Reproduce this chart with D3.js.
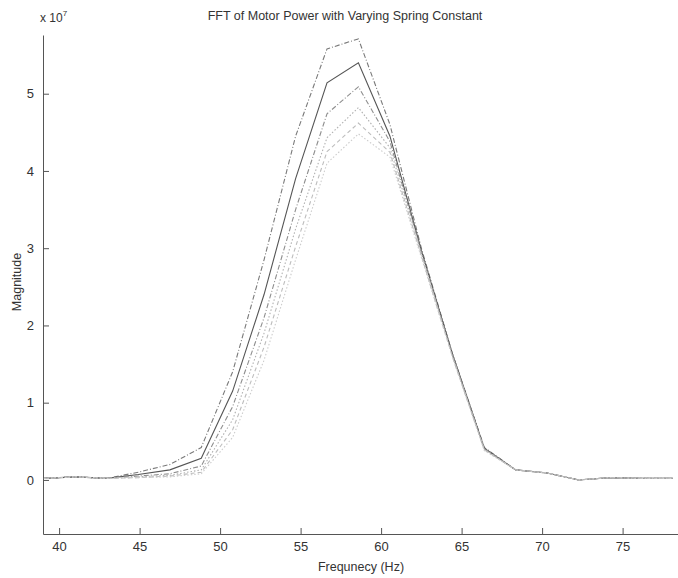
<!DOCTYPE html>
<html>
<head>
<meta charset="utf-8">
<script src="https://cdn.jsdelivr.net/npm/d3@7"></script>
<style>
  body { margin: 0; background: #fff; }
  text { font-family: "Liberation Sans", Arial, sans-serif; fill: #333; }
</style>
</head>
<body>
<div id="chart"></div>
<script>
// frequency bins (Hz)
const freq = [39.06, 41.02, 42.97, 44.92, 46.88, 48.83, 50.78, 52.73, 54.69, 56.64,
  58.59, 60.55, 62.5, 64.45, 66.41, 68.36, 70.31, 72.27, 74.22, 76.17, 78.13];

// magnitude, x 10^7, one array per spring constant
const mag1 = [0.02, 0.04, 0.02, 0.10, 0.20, 0.42, 1.40, 2.85, 4.45, 5.58, 5.71, 4.60, 3.00, 1.62, 0.42, 0.13, 0.09, 0.00, 0.03, 0.02, 0.02];
const mag2 = [0.02, 0.04, 0.02, 0.07, 0.13, 0.28, 1.15, 2.40, 3.90, 5.14, 5.40, 4.45, 2.97, 1.62, 0.41, 0.13, 0.09, 0.00, 0.03, 0.02, 0.02];
const mag3 = [0.02, 0.04, 0.02, 0.05, 0.08, 0.18, 0.95, 2.10, 3.50, 4.74, 5.09, 4.38, 2.95, 1.60, 0.40, 0.13, 0.09, 0.00, 0.03, 0.02, 0.02];
const mag4 = [0.02, 0.04, 0.02, 0.04, 0.06, 0.13, 0.78, 1.90, 3.25, 4.43, 4.82, 4.30, 2.93, 1.60, 0.40, 0.13, 0.09, 0.00, 0.03, 0.02, 0.02];
const mag5 = [0.02, 0.04, 0.02, 0.03, 0.05, 0.10, 0.65, 1.72, 3.02, 4.25, 4.62, 4.24, 2.90, 1.58, 0.39, 0.13, 0.09, 0.00, 0.03, 0.02, 0.02];
const mag6 = [0.02, 0.04, 0.02, 0.03, 0.04, 0.08, 0.55, 1.55, 2.85, 4.10, 4.48, 4.18, 2.88, 1.58, 0.38, 0.13, 0.09, 0.00, 0.03, 0.02, 0.02];

const xTicks = [40, 45, 50, 55, 60, 65, 70, 75];
const yTicks = [0, 1, 2, 3, 4, 5];

const series = [
  { values: mag1, color: '#7a7a7a', dash: '5,2,1,2' },
  { values: mag2, color: '#555', dash: null },
  { values: mag3, color: '#8e8e8e', dash: '5,2,1,2' },
  { values: mag4, color: '#b0b0b0', dash: '1.5,2' },
  { values: mag5, color: '#bdbdbd', dash: '4,3' },
  { values: mag6, color: '#cccccc', dash: '1.5,2' },
];

const width = 678, height = 578;
const svg = d3.select('#chart').append('svg')
  .attr('width', width)
  .attr('height', height);

const x = d3.scaleLinear().domain([39, 79]).range([43, 687]);
const y = d3.scaleLinear().domain([-0.7, 5.76]).range([534, 35]);

// axes
const xAxis = svg.append('g')
  .attr('transform', `translate(0,${y(-0.7)})`)
  .call(d3.axisBottom(x).tickValues(xTicks).tickFormat(d3.format('d'))
    .tickSizeInner(-6).tickSizeOuter(0).tickPadding(8));
const yAxis = svg.append('g')
  .attr('transform', `translate(${x(39)},0)`)
  .call(d3.axisLeft(y).tickValues(yTicks).tickFormat(d3.format('d'))
    .tickSizeInner(-6).tickSizeOuter(0).tickPadding(9));

[xAxis, yAxis].forEach((g) => {
  g.select('.domain').attr('stroke', '#555');
  g.selectAll('.tick line').attr('stroke', '#555');
  g.selectAll('.tick text').attr('font-size', 13).attr('fill', '#333')
    .style('font-family', '"Liberation Sans", Arial, sans-serif');
});

// lines
const line = d3.line()
  .x((d, i) => x(freq[i]))
  .y((d) => y(d));

svg.append('g')
  .selectAll('path')
  .data(series)
  .join('path')
  .attr('d', (d) => line(d.values))
  .attr('fill', 'none')
  .attr('stroke', (d) => d.color)
  .attr('stroke-width', 1.1)
  .attr('stroke-dasharray', (d) => d.dash);

// labels
svg.append('text')
  .attr('x', 345).attr('y', 20)
  .attr('text-anchor', 'middle')
  .attr('font-size', 12.5)
  .text('FFT of Motor Power with Varying Spring Constant');

const expo = svg.append('text')
  .attr('x', 40).attr('y', 22)
  .attr('font-size', 12);
expo.append('tspan').text('x 10');
expo.append('tspan').attr('dy', -6).attr('font-size', 8).text('7');

svg.append('text')
  .attr('transform', 'translate(21,282) rotate(-90)')
  .attr('text-anchor', 'middle')
  .attr('font-size', 12.5)
  .text('Magnitude');

svg.append('text')
  .attr('x', 361).attr('y', 571)
  .attr('text-anchor', 'middle')
  .attr('font-size', 12.5)
  .text('Frequnecy (Hz)');
</script>
</body>
</html>
